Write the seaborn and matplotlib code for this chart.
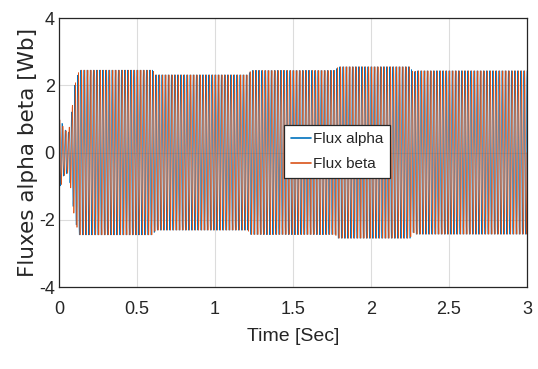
import numpy as np
import pandas as pd
import matplotlib
matplotlib.use("Agg")
import matplotlib.pyplot as plt
import seaborn as sns

# --- data ---
freq_hz = 50.0                      # electrical frequency of the flux waveforms
env_t = [0.0, 0.012, 0.03, 0.06, 0.08, 0.10, 0.13, 0.60, 0.62, 1.21, 1.23,
         1.77, 1.79, 2.25, 2.27, 2.29, 3.0]          # envelope breakpoints [s]
env_amp = [0.95, 1.0, 0.7, 0.6, 1.2, 2.0, 2.45, 2.45, 2.31, 2.31, 2.44,
           2.44, 2.55, 2.55, 2.38, 2.43, 2.43]        # flux magnitude [Wb]
series_names = ["Flux alpha", "Flux beta"]
x_ticks = [0, 0.5, 1, 1.5, 2, 2.5, 3]
y_ticks = [-4, -2, 0, 2, 4]

# --- build the waveforms ---
t = np.arange(0, 3.0 + 1e-9, 1e-4)
amp = np.interp(t, env_t, env_amp)
w = 2 * np.pi * freq_hz
alpha = amp * np.cos(w * t)
beta = amp * np.sin(w * t)
df = pd.DataFrame({
    "t": np.concatenate([t, t]),
    "flux": np.concatenate([alpha, beta]),
    "series": [series_names[0]] * len(t) + [series_names[1]] * len(t),
})

sns.set_theme(style="white")
plt.rcParams["font.family"] = ["Liberation Sans", "DejaVu Sans"]

fig = plt.figure(figsize=(5.38, 3.69), dpi=100)
ax = fig.add_axes([0.1097, 0.2222, 0.8699, 0.7290])

palette = {series_names[0]: "#0072BD", series_names[1]: "#D95319"}
sns.lineplot(data=df, x="t", y="flux", hue="series", palette=palette,
             estimator=None, sort=False, linewidth=0.5, ax=ax)

ax.set_xlim(0, 3)
ax.set_ylim(-4, 4)
ax.set_xticks(x_ticks)
ax.set_xticklabels([f"{v:g}" for v in x_ticks])
ax.set_yticks(y_ticks)
ax.set_yticklabels([f"{v:g}" for v in y_ticks])
ax.grid(True, color="#dcdcdc", linewidth=0.8)
ax.set_axisbelow(True)
for s in ax.spines.values():
    s.set_color("#262626")
    s.set_linewidth(0.9)
ax.tick_params(direction="in", length=3, width=0.8, colors="#262626",
               labelsize=13)
ax.tick_params(axis="x", pad=10)
ax.tick_params(axis="y", pad=3)
ax.set_xlabel("Time [Sec]", fontsize=14, color="#262626", labelpad=7)
ax.set_ylabel("Fluxes alpha beta [Wb]", fontsize=15.5, color="#262626",
              family=["DejaVu Sans"], labelpad=1)

leg = ax.legend(loc="upper left", bbox_to_anchor=(0.481, 0.602),
                borderaxespad=0, fontsize=11, handlelength=1.3,
                handletextpad=0.15, borderpad=0.45, labelspacing=0.75,
                frameon=True, fancybox=False, framealpha=1, title=None)
leg.get_frame().set_edgecolor("#262626")
leg.get_frame().set_linewidth(0.9)
for line in leg.get_lines():
    line.set_linewidth(1.2)

fig.savefig("out.png", dpi=100)
